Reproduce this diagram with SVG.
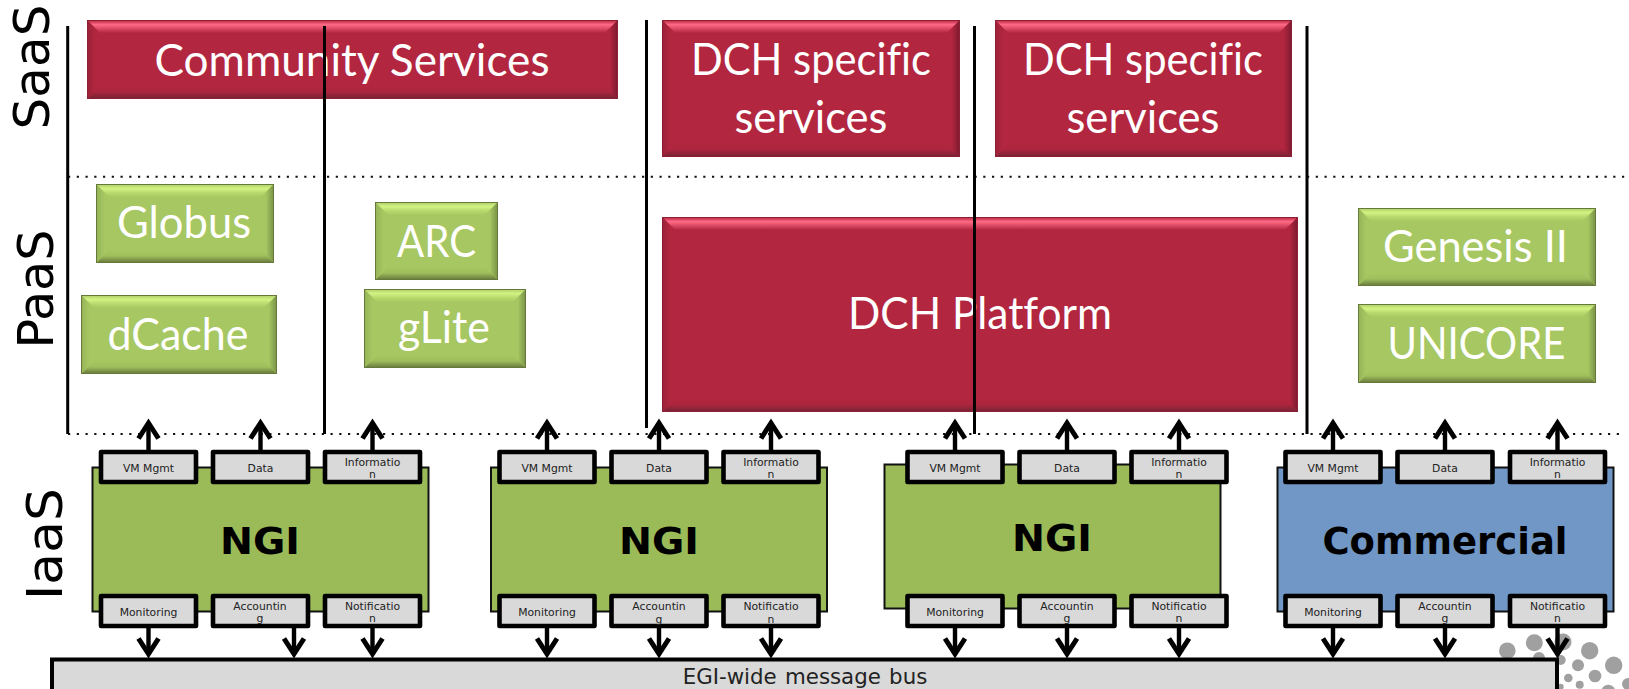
<svg xmlns="http://www.w3.org/2000/svg" width="1629" height="689" viewBox="0 0 1629 689">
<style>
.bg{fill:#fff}
.sep{stroke:#000;stroke-width:3;fill:none}
.dot{stroke:#111;stroke-width:2;stroke-dasharray:2.2 6.55;fill:none}
.layer{font:50px "DejaVu Sans",Verdana,sans-serif;fill:#000;text-anchor:middle}
.rbase{fill:#b2263f;stroke:#8c2034;stroke-width:1}
.gbase{fill:#a7c762;stroke:#66783a;stroke-width:1}
.rt{fill:url(#rTop)}.rb{fill:url(#rBot)}.rl{fill:url(#rLeft)}.rr{fill:url(#rRight)}
.gt{fill:url(#gTop)}.gb{fill:url(#gBot)}.gl{fill:url(#gLeft)}.gr{fill:url(#gRight)}
.lbl{font:44px "Lato","Open Sans",sans-serif;fill:#fff;text-anchor:middle;font-variant-ligatures:none}
.ngi{fill:#9bbb59;stroke:#111;stroke-width:2}
.com{fill:#7097c5;stroke:#111;stroke-width:2}
.site{font:bold 38px "DejaVu Sans",Verdana,sans-serif;fill:#000;text-anchor:middle}
.svc{fill:#d9d9d9;stroke:#000;stroke-width:4.6;stroke-linejoin:round}
.st{font:10.8px "DejaVu Sans",Verdana,sans-serif;fill:#222;text-anchor:middle}
.bus{fill:#d9d9d9;stroke:#000;stroke-width:4}
.bt{font:21.33px "DejaVu Sans",Verdana,sans-serif;fill:#222;text-anchor:middle;word-spacing:1.5px}
.arr{stroke:#000;stroke-width:4.4;fill:none;marker-end:url(#head)}
.spot{fill:#a0a0a0}
</style>
<defs>
<marker id="head" markerUnits="userSpaceOnUse" viewBox="-24 -16 32 32" refX="0" refY="0" markerWidth="32" markerHeight="32" orient="auto"><path d="M-15.5,-10 L0,0 L-15.5,10" fill="none" stroke="#000" stroke-width="5"/></marker>
<linearGradient id="rTop" x1="0" y1="0" x2="0" y2="1"><stop offset="0" stop-color="#c2304c"/><stop offset=".3" stop-color="#ff6a85"/><stop offset=".55" stop-color="#e5526e"/><stop offset="1" stop-color="#b2263f"/></linearGradient>
<linearGradient id="rBot" x1="0" y1="0" x2="0" y2="1"><stop offset="0" stop-color="#b2263f"/><stop offset=".5" stop-color="#aa253d"/><stop offset="1" stop-color="#7b2435"/></linearGradient>
<linearGradient id="rLeft" x1="0" y1="0" x2="1" y2="0"><stop offset="0" stop-color="#9c2239"/><stop offset=".6" stop-color="#b2263f"/></linearGradient>
<linearGradient id="rRight" x1="1" y1="0" x2="0" y2="0"><stop offset="0" stop-color="#801b30"/><stop offset=".6" stop-color="#b2263f"/></linearGradient>
<linearGradient id="gTop" x1="0" y1="0" x2="0" y2="1"><stop offset="0" stop-color="#b3d56b"/><stop offset=".3" stop-color="#d2f283"/><stop offset=".6" stop-color="#bcdc70"/><stop offset="1" stop-color="#a7c762"/></linearGradient>
<linearGradient id="gBot" x1="0" y1="0" x2="0" y2="1"><stop offset="0" stop-color="#a7c762"/><stop offset=".5" stop-color="#9fbe5c"/><stop offset="1" stop-color="#6d7f3f"/></linearGradient>
<linearGradient id="gLeft" x1="0" y1="0" x2="1" y2="0"><stop offset="0" stop-color="#96b558"/><stop offset=".6" stop-color="#a7c762"/></linearGradient>
<linearGradient id="gRight" x1="1" y1="0" x2="0" y2="0"><stop offset="0" stop-color="#7d9749"/><stop offset=".6" stop-color="#a7c762"/></linearGradient>
</defs>
<rect class="bg" width="1629" height="689"/>

<g id="layer-labels">
<text class="layer" transform="translate(49,67) rotate(-90)">SaaS</text>
<text class="layer" transform="translate(53,289) rotate(-90)" textLength="119" lengthAdjust="spacingAndGlyphs">PaaS</text>
<text class="layer" transform="translate(62,544) rotate(-90)" textLength="112" lengthAdjust="spacingAndGlyphs">IaaS</text>
</g>

<g id="logo-dots">
<circle class="spot" cx="1507.3" cy="650.7" r="8.3"/><circle class="spot" cx="1534.3" cy="642.7" r="8.5"/><circle class="spot" cx="1563" cy="642" r="8.5"/><circle class="spot" cx="1589.7" cy="650.7" r="8.7"/><circle class="spot" cx="1578" cy="665.3" r="6"/><circle class="spot" cx="1595" cy="676" r="6.3"/><circle class="spot" cx="1613.7" cy="665.3" r="8.7"/><circle class="spot" cx="1568.3" cy="678" r="4.3"/><circle class="spot" cx="1579.7" cy="684.7" r="4"/><circle class="spot" cx="1608.3" cy="691.7" r="7"/><circle class="spot" cx="1628" cy="684" r="6"/><circle class="spot" cx="1560.7" cy="660" r="5"/><circle class="spot" cx="1560.7" cy="686.7" r="3"/><circle class="spot" cx="1539" cy="658" r="6"/>
</g>

<g id="community-services"><rect class="rbase" x="87.5" y="20.5" width="530" height="78"/><polygon class="rt" points="88,21 617,21 605,33 100,33"/><polygon class="rb" points="88,98 617,98 605,86 100,86"/><polygon class="rl" points="88,21 100,33 100,86 88,98"/><polygon class="rr" points="617,21 605,33 605,86 617,98"/><text class="lbl" x="352" y="75.5" textLength="395" lengthAdjust="spacingAndGlyphs">Community Services</text></g>

<g id="dch-services-1"><rect class="rbase" x="662.5" y="20.5" width="297" height="136"/><polygon class="rt" points="663,21 959,21 947,33 675,33"/><polygon class="rb" points="663,156 959,156 947,144 675,144"/><polygon class="rl" points="663,21 675,33 675,144 663,156"/><polygon class="rr" points="959,21 947,33 947,144 959,156"/><text class="lbl" x="811" y="75" textLength="240" lengthAdjust="spacingAndGlyphs">DCH specific</text><text class="lbl" x="811" y="133" textLength="153" lengthAdjust="spacingAndGlyphs">services</text></g>

<g id="dch-services-2"><rect class="rbase" x="995.5" y="20.5" width="296" height="136"/><polygon class="rt" points="996,21 1291,21 1279,33 1008,33"/><polygon class="rb" points="996,156 1291,156 1279,144 1008,144"/><polygon class="rl" points="996,21 1008,33 1008,144 996,156"/><polygon class="rr" points="1291,21 1279,33 1279,144 1291,156"/><text class="lbl" x="1143" y="75" textLength="240" lengthAdjust="spacingAndGlyphs">DCH specific</text><text class="lbl" x="1143" y="133" textLength="153" lengthAdjust="spacingAndGlyphs">services</text></g>

<g id="dch-platform"><rect class="rbase" x="662.5" y="217.5" width="635" height="194"/><polygon class="rt" points="663,218 1297,218 1285,230 675,230"/><polygon class="rb" points="663,411 1297,411 1285,399 675,399"/><polygon class="rl" points="663,218 675,230 675,399 663,411"/><polygon class="rr" points="1297,218 1285,230 1285,399 1297,411"/><text class="lbl" x="980" y="329" textLength="264" lengthAdjust="spacingAndGlyphs">DCH Platform</text></g>

<g id="globus"><rect class="gbase" x="96.5" y="184.5" width="177" height="78"/><polygon class="gt" points="97,185 273,185 261,197 109,197"/><polygon class="gb" points="97,262 273,262 261,250 109,250"/><polygon class="gl" points="97,185 109,197 109,250 97,262"/><polygon class="gr" points="273,185 261,197 261,250 273,262"/><text class="lbl" x="184" y="238" textLength="134" lengthAdjust="spacingAndGlyphs">Globus</text></g>

<g id="dcache"><rect class="gbase" x="81.5" y="295.5" width="195" height="78"/><polygon class="gt" points="82,296 276,296 264,308 94,308"/><polygon class="gb" points="82,373 276,373 264,361 94,361"/><polygon class="gl" points="82,296 94,308 94,361 82,373"/><polygon class="gr" points="276,296 264,308 264,361 276,373"/><text class="lbl" x="178" y="350" textLength="141" lengthAdjust="spacingAndGlyphs">dCache</text></g>

<g id="arc"><rect class="gbase" x="375.5" y="202.5" width="122" height="77"/><polygon class="gt" points="376,203 497,203 485,215 388,215"/><polygon class="gb" points="376,279 497,279 485,267 388,267"/><polygon class="gl" points="376,203 388,215 388,267 376,279"/><polygon class="gr" points="497,203 485,215 485,267 497,279"/><text class="lbl" x="436.5" y="257" textLength="79" lengthAdjust="spacingAndGlyphs">ARC</text></g>

<g id="glite"><rect class="gbase" x="364.5" y="289.5" width="161" height="78"/><polygon class="gt" points="365,290 525,290 513,302 377,302"/><polygon class="gb" points="365,367 525,367 513,355 377,355"/><polygon class="gl" points="365,290 377,302 377,355 365,367"/><polygon class="gr" points="525,290 513,302 513,355 525,367"/><text class="lbl" x="444" y="343" textLength="92" lengthAdjust="spacingAndGlyphs">gLite</text></g>

<g id="genesis"><rect class="gbase" x="1358.5" y="208.5" width="237" height="77"/><polygon class="gt" points="1359,209 1595,209 1583,221 1371,221"/><polygon class="gb" points="1359,285 1595,285 1583,273 1371,273"/><polygon class="gl" points="1359,209 1371,221 1371,273 1359,285"/><polygon class="gr" points="1595,209 1583,221 1583,273 1595,285"/><text class="lbl" x="1475.5" y="262" textLength="185" lengthAdjust="spacingAndGlyphs">Genesis II</text></g>

<g id="unicore"><rect class="gbase" x="1358.5" y="304.5" width="237" height="78"/><polygon class="gt" points="1359,305 1595,305 1583,317 1371,317"/><polygon class="gb" points="1359,382 1595,382 1583,370 1371,370"/><polygon class="gl" points="1359,305 1371,317 1371,370 1359,382"/><polygon class="gr" points="1595,305 1583,317 1583,370 1595,382"/><text class="lbl" x="1476.5" y="359" textLength="178" lengthAdjust="spacingAndGlyphs">UNICORE</text></g>

<g id="bus"><rect class="bus" x="52" y="659.5" width="1505" height="60"/><text class="bt" x="805" y="683.5">EGI-wide message bus</text></g>

<g id="ngi-1"><rect class="ngi" x="92.5" y="467.5" width="336" height="144"/><text class="site" x="260" y="553.5" textLength="80" lengthAdjust="spacingAndGlyphs">NGI</text>
<rect class="svc" x="101" y="452" width="95" height="30"/><text class="st" x="148.5" y="472">VM Mgmt</text>
<rect class="svc" x="213" y="452" width="95" height="30"/><text class="st" x="260.5" y="472">Data</text>
<rect class="svc" x="325" y="452" width="95" height="30"/><text class="st" x="372.5" y="466">Informatio</text><text class="st" x="372.5" y="478">n</text>
<rect class="svc" x="101" y="596" width="95" height="30"/><text class="st" x="148.5" y="616">Monitoring</text>
<rect class="svc" x="213" y="596" width="95" height="30"/><text class="st" x="260" y="610">Accountin</text><text class="st" x="260" y="622">g</text>
<rect class="svc" x="325" y="596" width="95" height="30"/><text class="st" x="372.5" y="610">Notificatio</text><text class="st" x="372.5" y="622">n</text></g>

<g id="ngi-2"><rect class="ngi" x="491" y="467.5" width="336" height="144"/><text class="site" x="659" y="553.5" textLength="80" lengthAdjust="spacingAndGlyphs">NGI</text>
<rect class="svc" x="499.5" y="452" width="95" height="30"/><text class="st" x="547" y="472">VM Mgmt</text>
<rect class="svc" x="611.5" y="452" width="95" height="30"/><text class="st" x="659" y="472">Data</text>
<rect class="svc" x="723.5" y="452" width="95" height="30"/><text class="st" x="771" y="466">Informatio</text><text class="st" x="771" y="478">n</text>
<rect class="svc" x="499.5" y="596" width="95" height="30"/><text class="st" x="547" y="616">Monitoring</text>
<rect class="svc" x="611.5" y="596" width="95" height="30"/><text class="st" x="659" y="610">Accountin</text><text class="st" x="659" y="623">g</text>
<rect class="svc" x="723.5" y="596" width="95" height="30"/><text class="st" x="771" y="610">Notificatio</text><text class="st" x="771" y="623">n</text></g>

<g id="ngi-3"><rect class="ngi" x="884.5" y="464.5" width="336" height="144"/><text class="site" x="1052" y="550.5" textLength="80" lengthAdjust="spacingAndGlyphs">NGI</text>
<rect class="svc" x="907.5" y="452" width="95" height="30"/><text class="st" x="955" y="472">VM Mgmt</text>
<rect class="svc" x="1019.5" y="452" width="95" height="30"/><text class="st" x="1067" y="472">Data</text>
<rect class="svc" x="1131.5" y="452" width="95" height="30"/><text class="st" x="1179" y="466">Informatio</text><text class="st" x="1179" y="478">n</text>
<rect class="svc" x="907.5" y="596" width="95" height="30"/><text class="st" x="955" y="616">Monitoring</text>
<rect class="svc" x="1019.5" y="596" width="95" height="30"/><text class="st" x="1067" y="610">Accountin</text><text class="st" x="1067" y="622">g</text>
<rect class="svc" x="1131.5" y="596" width="95" height="30"/><text class="st" x="1179" y="610">Notificatio</text><text class="st" x="1179" y="622">n</text></g>

<g id="commercial"><rect class="com" x="1277.5" y="467.5" width="336" height="144"/><text class="site" x="1445" y="553.5" textLength="245" lengthAdjust="spacingAndGlyphs">Commercial</text>
<rect class="svc" x="1285.5" y="452" width="95" height="30"/><text class="st" x="1333" y="472">VM Mgmt</text>
<rect class="svc" x="1397.5" y="452" width="95" height="30"/><text class="st" x="1445" y="472">Data</text>
<rect class="svc" x="1510" y="452" width="95" height="30"/><text class="st" x="1557.5" y="466">Informatio</text><text class="st" x="1557.5" y="478">n</text>
<rect class="svc" x="1285.5" y="596" width="95" height="30"/><text class="st" x="1333" y="616">Monitoring</text>
<rect class="svc" x="1397.5" y="596" width="95" height="30"/><text class="st" x="1445" y="610">Accountin</text><text class="st" x="1445" y="622">g</text>
<rect class="svc" x="1510" y="596" width="95" height="30"/><text class="st" x="1557.5" y="610">Notificatio</text><text class="st" x="1557.5" y="622">n</text></g>

<g id="connectors">
<path class="dot" d="M68,176.7H317M327,176.7H1625"/>
<path class="dot" d="M68,434H1625"/>
<path class="sep" d="M67.7,26V434"/>
<path class="sep" d="M324.5,26V434"/>
<path class="sep" d="M646.5,20V428"/>
<path class="sep" d="M974.5,26V434"/>
<path class="sep" d="M1307,26V434"/>
<path class="arr" d="M148.5,450V423"/><path class="arr" d="M260.5,450V423"/><path class="arr" d="M372.5,450V423"/>
<path class="arr" d="M547,450V423"/><path class="arr" d="M659,450V423"/><path class="arr" d="M771,450V423"/>
<path class="arr" d="M955,450V423"/><path class="arr" d="M1067,450V423"/><path class="arr" d="M1179,450V423"/>
<path class="arr" d="M1333,450V423"/><path class="arr" d="M1445,450V423"/><path class="arr" d="M1557.5,450V423"/>
<path class="arr" d="M148.5,628V654"/><path class="arr" d="M294,628V654"/><path class="arr" d="M372.5,628V654"/>
<path class="arr" d="M547,628V654"/><path class="arr" d="M659,628V654"/><path class="arr" d="M771,628V654"/>
<path class="arr" d="M955,628V654"/><path class="arr" d="M1067,628V654"/><path class="arr" d="M1179,628V654"/>
<path class="arr" d="M1333,628V654"/><path class="arr" d="M1445,628V654"/><path class="arr" d="M1557.5,628V654"/>
</g>
</svg>
